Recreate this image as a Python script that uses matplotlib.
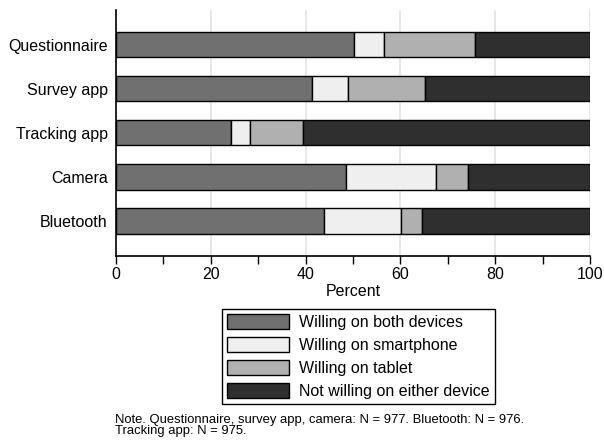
import matplotlib.pyplot as plt
import numpy as np

plt.rcParams['font.family'] = ['Liberation Sans', 'DejaVu Sans']

# categories, top to bottom
categories = ['Questionnaire', 'Survey app', 'Tracking app', 'Camera', 'Bluetooth']
both_devices = [50.1, 41.4, 24.3, 48.5, 43.8]
smartphone = [6.5, 7.5, 4.0, 18.9, 16.3]
tablet = [19.1, 16.3, 11.1, 6.8, 4.4]
not_willing = [24.3, 34.8, 60.6, 25.8, 35.5]

series_labels = ['Willing on both devices', 'Willing on smartphone',
                 'Willing on tablet', 'Not willing on either device']
colors = ['#707070', '#efefef', '#b0b0b0', '#2f2f2f']

fig = plt.figure(figsize=(6.04, 4.43), dpi=100)
ax = fig.add_axes([0.192, 0.422, 0.785, 0.555])

y = np.arange(len(categories))[::-1]
left = np.zeros(len(categories))
handles = []
for vals, col, lab in zip([both_devices, smartphone, tablet, not_willing], colors, series_labels):
    b = ax.barh(y, vals, left=left, height=0.58, color=col, edgecolor='black',
                linewidth=1, label=lab, zorder=3)
    handles.append(b)
    left += np.array(vals)

ax.set_xlim(0, 100)
ax.set_ylim(-0.8, 4.78)
ax.set_yticks(y)
ax.set_yticklabels(categories, fontsize=11.5)
ax.tick_params(axis='y', length=0, pad=6)
ax.set_xticks(np.arange(0, 101, 20))
ax.set_xticks(np.arange(10, 100, 20), minor=True)
ax.tick_params(axis='x', which='both', length=6, width=1, color='black', labelsize=11.5, pad=2)
ax.xaxis.grid(True, which='major', color='#e3e3e3', linewidth=1.2, zorder=0)
ax.set_axisbelow(True)
for s in ['top', 'right']:
    ax.spines[s].set_visible(False)
ax.spines['left'].set_linewidth(1.2)
ax.spines['bottom'].set_linewidth(1.2)
ax.set_xlabel('Percent', fontsize=11.5, labelpad=1)

leg = fig.legend(handles=handles, labels=series_labels, loc='upper left',
                 bbox_to_anchor=(0.368, 0.302), fontsize=11.5, frameon=True,
                 fancybox=False, edgecolor='black', framealpha=1,
                 handlelength=3.9, handleheight=1.05, handletextpad=0.62,
                 labelspacing=0.45, borderpad=0.3, borderaxespad=0)
leg.get_frame().set_linewidth(1)

fig.text(0.19, 0.066, 'Note. Questionnaire, survey app, camera: N = 977. Bluetooth: N = 976.\nTracking app: N = 975.',
         fontsize=9.4, ha='left', va='top', linespacing=0.95)

fig.savefig('out.png', dpi=100)
